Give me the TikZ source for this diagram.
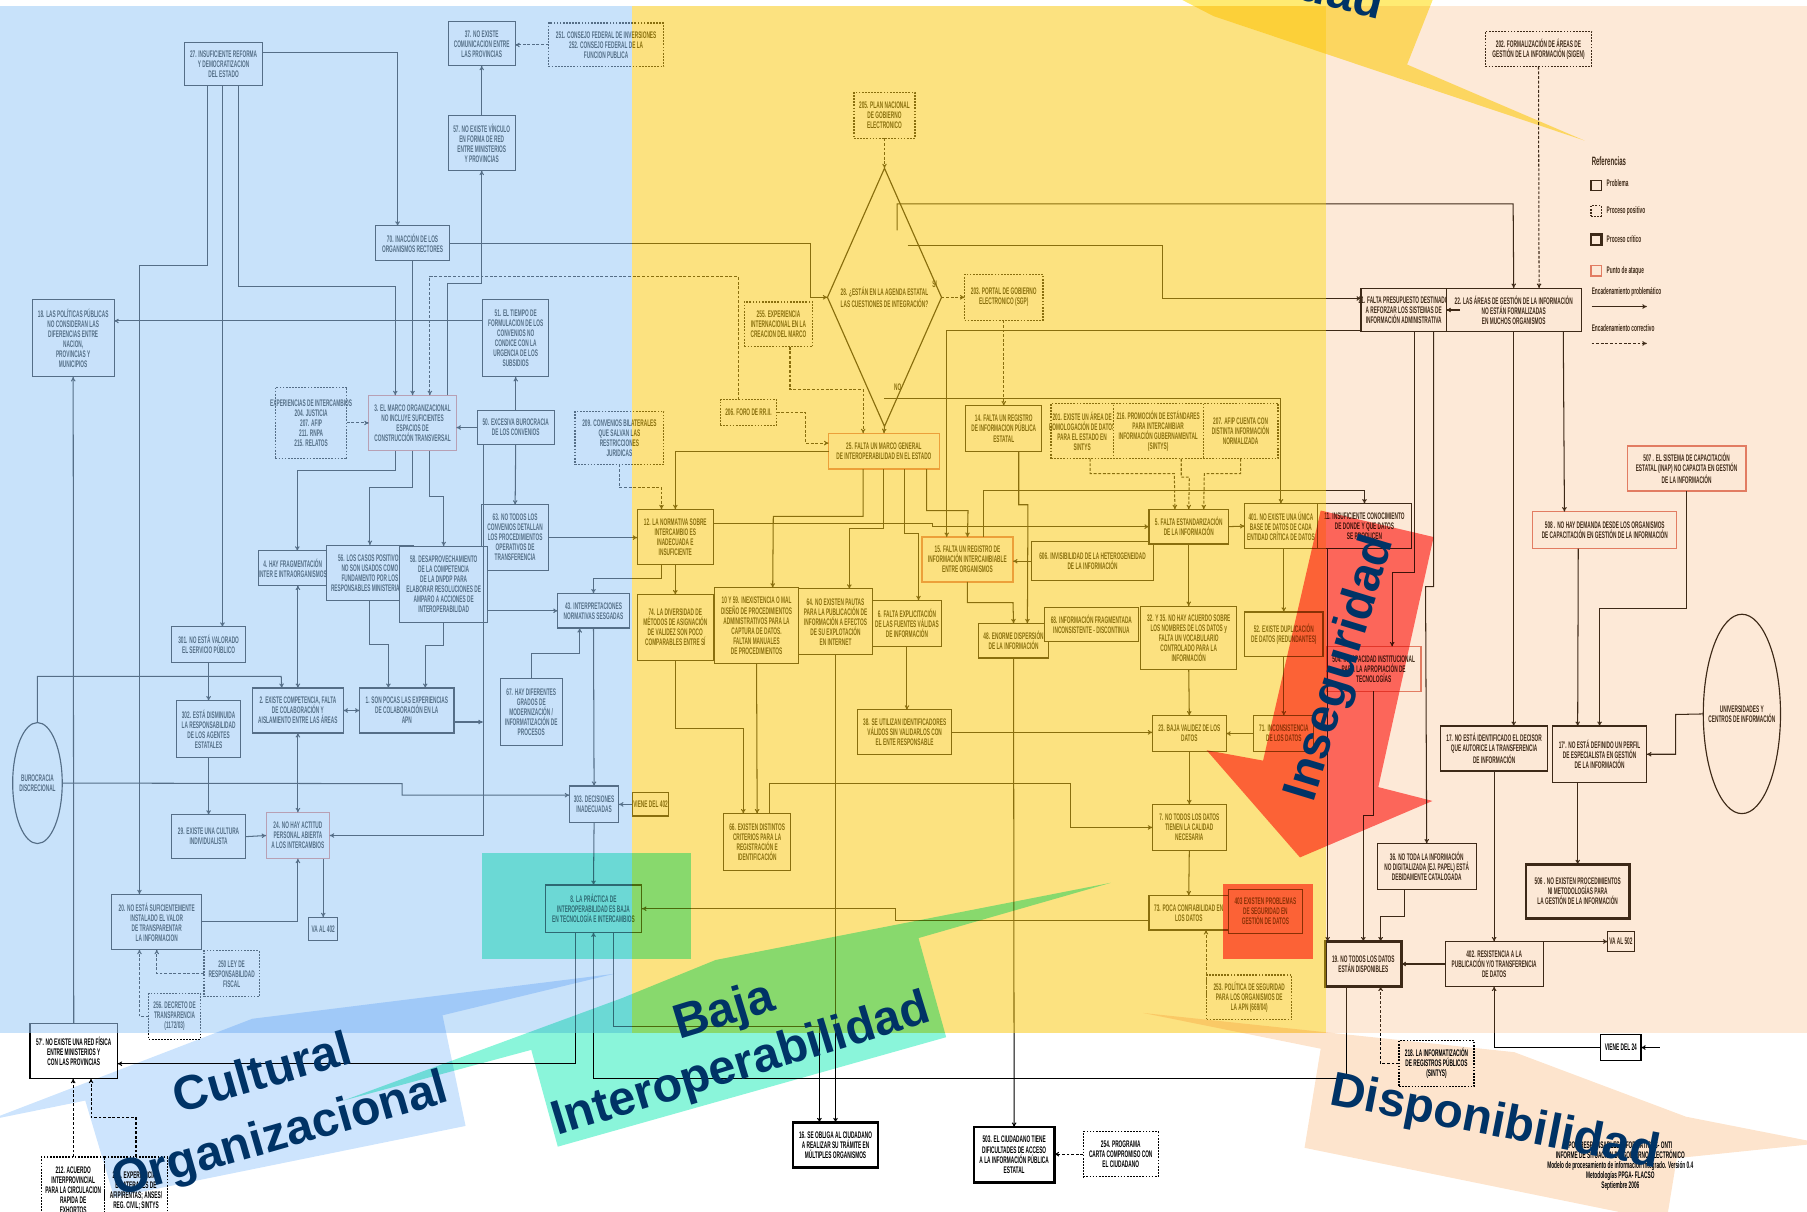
\documentclass[tikz,border=0pt]{standalone}
\usepackage{fontspec}
\usetikzlibrary{arrows.meta,shapes.geometric}
\newfontfamily\cajafont{Liberation Sans Bold}[FakeStretch=0.5]
\newfontfamily\gordafont{Liberation Sans}
\definecolor{atque}{RGB}{220,110,100}
\definecolor{azulzona}{RGB}{155,202,246}
\definecolor{amarzona}{RGB}{250,202,24}
\definecolor{durazno}{RGB}{247,167,95}
\definecolor{celeste}{RGB}{205,228,253}
\definecolor{menta}{RGB}{138,245,218}
\definecolor{rojo}{RGB}{255,112,108}
\definecolor{salmon}{RGB}{253,228,205}
\definecolor{oro}{RGB}{255,235,115}
\definecolor{marino}{RGB}{0,51,102}
\newcommand\caja[7][prob]{%
  \node[#1, minimum width=#5-#3, minimum height=#6-#4,
        label={[txt]center:{#7}}] (#2) at ({(#3+#5)/2},{(#4+#6)/2}) {};}
\begin{document}
\begin{tikzpicture}[x=1pt, y=-1pt, >={To[length=4pt,width=4pt]},
    prob/.style={draw=black, fill=white, line width=1pt, inner sep=0pt, outer sep=0pt},
    posi/.style={prob, dash pattern=on 1.5pt off 1.2pt},
    crit/.style={prob, line width=2.2pt},
    atk/.style={prob, draw=atque},
    txt/.style={font=\cajafont\fontsize{8.3}{8.7}\selectfont, align=center, inner sep=0pt, text=black},
    pb/.style={->, line width=0.9pt},
    co/.style={pb, dash pattern=on 2.5pt off 1.5pt},
    gorda/.style={font=\gordafont\bfseries\fontsize{42}{55}\selectfont, text=marino, align=center, inner sep=0pt}]
  \useasboundingbox (0,0) rectangle (1568,1051);
  % left block
  \caja{n27}{160}{37}{228}{74}{27. INSUFICIENTE REFORMA\\Y DEMOCRATIZACION\\DEL ESTADO}
  \caja{n37}{389}{19}{447}{57}{37. NO EXISTE\\COMUNICACION ENTRE\\LAS PROVINCIAS}
  \caja[posi]{n251}{476}{20}{576}{58}{251. CONSEJO FEDERAL DE INVERSIONES\\252. CONSEJO FEDERAL DE LA\\FUNCION PUBLICA}
  \caja{n57}{389}{100}{447}{148}{57. NO EXISTE VÍNCULO\\EN FORMA DE RED\\ENTRE MINISTERIOS\\Y PROVINCIAS}
  \caja{n70}{326}{196}{390}{226}{70. INACCIÓN DE LOS\\ORGANISMOS RECTORES}
  \caja{n18}{28}{260}{99}{327}{18. LAS POLÍTICAS PÚBLICAS\\NO CONSIDERAN LAS\\DIFERENCIAS ENTRE\\NACION,\\PROVINCIAS Y\\MUNICIPIOS}
  \caja{n51}{419}{260}{476}{327}{51. EL TIEMPO DE\\FORMULACION DE LOS\\CONVENIOS NO\\CONDICE CON LA\\URGENCIA DE LOS\\SUBSIDIOS}
  \caja[posi]{nexp}{239}{336}{301}{398}{EXPERIENCIAS DE INTERCAMBIOS\\204. JUSTICIA\\207. AFIP\\211. RNPA\\215. RELATOS}
  \caja[atk]{n3}{320}{343}{396}{391}{3. EL MARCO ORGANIZACIONAL\\NO INCLUYE SUFICIENTES\\ESPACIOS DE\\CONSTRUCCIÓN TRANSVERSAL}
  \caja{n50}{414}{356}{481}{386}{50. EXCESIVA BUROCRACIA\\DE LOS CONVENIOS}
  \caja[posi]{n209}{499}{357}{576}{403}{209. CONVENIOS BILATERALES\\QUE SALVAN LAS\\RESTRICCIONES\\JURIDICAS}
  \caja{n63}{418}{438}{476}{495}{63. NO TODOS LOS\\CONVENIOS DETALLAN\\LOS PROCEDIMIENTOS\\OPERATIVOS DE\\TRANSFERENCIA}
  \caja{n4}{224}{478}{284}{508}{4. HAY FRAGMENTACIÓN\\INTER E INTRAORGANISMOS}
  \caja{n56}{283}{473}{359}{521}{56. LOS CASOS POSITIVOS\\NO SON USADOS COMO\\FUNDAMENTO POR LOS\\RESPONSABLES MINISTERIALES}
  \caja{n58}{347}{474}{423}{540}{58. DESAPROVECHAMIENTO\\DE LA COMPETENCIA\\DE LA DNPDP PARA\\ELABORAR RESOLUCIONES DE\\AMPARO A ACCIONES DE\\INTEROPERABILIDAD}
  \caja{n43}{484}{515}{546}{545}{43. INTERPRETACIONES\\NORMATIVAS SESGADAS}
  \caja{n301}{149}{544}{213}{575}{301. NO ESTÁ VALORADO\\EL SERVICIO PÚBLICO}
  \caja{n2}{219}{597}{298}{636}{2. EXISTE COMPETENCIA, FALTA\\DE COLABORACIÓN Y\\AISLAMIENTO ENTRE LAS ÁREAS}
  \caja{n1}{312}{597}{394}{636}{1. SON POCAS LAS EXPERIENCIAS\\DE COLABORACIÓN EN LA\\APN}
  \caja{n67}{434}{589}{488}{647}{67. HAY DIFERENTES\\GRADOS DE\\MODERNIZACIÓN /\\INFORMATIZACIÓN DE\\PROCESOS}
  \caja{n302}{153}{608}{209}{657}{302. ESTÁ DISMINUIDA\\LA RESPONSABILIDAD\\DE LOS AGENTES\\ESTATALES}
  \node[draw, ellipse, line width=1pt, inner sep=0pt, outer sep=0pt, minimum width=43, minimum height=105,
        label={[txt]center:{BUROCRACIA\\DISCRECIONAL}}] (nburo) at (32.5,679.5) {};
  \caja{n303}{494}{682}{537}{714}{303. DECISIONES\\INADECUADAS}
  \caja{nviene402}{549}{688}{580}{708}{VIENE DEL 402}
  \caja{n29}{149}{707}{213}{745}{29. EXISTE UNA CULTURA\\INDIVIDUALISTA}
  \caja[atk]{n24}{231}{705}{286}{745}{24. NO HAY ACTITUD\\PERSONAL ABIERTA\\A LOS INTERCAMBIOS}
  \caja{n20}{97}{776}{175}{824}{20. NO ESTÁ SUFICIENTEMENTE\\INSTALADO EL VALOR\\DE TRANSPARENTAR\\LA INFORMACION}
  \caja{nva402}{268}{796}{293}{816}{VA AL 402}
  \caja{n8}{473}{768}{557}{809}{8. LA PRÁCTICA DE\\INTEROPERABILIDAD ES BAJA\\EN TECNOLOGÍA E INTERCAMBIOS}
  \caja[posi]{n250}{177}{825}{225}{865}{250 LEY DE\\RESPONSABILIDAD\\FISCAL}
  \caja[posi]{n256}{129}{862}{174}{902}{256. DECRETO DE\\TRANSPARENCIA\\(1172/03)}
  \caja{n57b}{26}{888}{102}{936}{57'. NO EXISTE UNA RED FÍSICA\\ENTRE MINISTERIOS Y\\CON LAS PROVINCIAS}
  \caja[posi]{n212}{36}{1004}{91}{1062}{212. ACUERDO\\INTERPROVINCIAL\\PARA LA CIRCULACION\\RAPIDA DE\\EXHORTOS}
  \caja[posi]{n213}{91}{1004}{145}{1062}{213. EXPERIENCIAS\\BILATERALES DE\\AFIP/RENTAS; ANSES/\\REG. CIVIL; SINTYS}
  % middle block
  \caja[posi]{n205}{741}{80}{794}{120}{205. PLAN NACIONAL\\DE GOBIERNO\\ELECTRONICO}
  \node[draw, diamond, line width=1pt, inner sep=0pt, outer sep=0pt, minimum width=99, minimum height=224,
        label={[txt]center:{28. ¿ESTÁN EN LA AGENDA ESTATAL\\LAS CUESTIONES DE INTEGRACIÓN?}}] (n28) at (767.5,258) {};
  \node[txt] (lsi) at (811,247) {SI};
  \node[txt] (lno) at (779,336) {NO};
  \caja[posi]{n203}{837}{238}{905}{278}{203. PORTAL DE GOBIERNO\\ELECTRONICO (SGP)}
  \caja[posi]{n255}{646}{262}{705}{301}{255. EXPERIENCIA\\INTERNACIONAL EN LA\\CREACION DEL MARCO}
  \caja[posi]{n206}{625}{347}{674}{369}{206. FORO DE RR.II.}
  \caja[atk]{n25}{719}{376}{815}{407}{25. FALTA UN MARCO GENERAL\\DE INTEROPERABILIDAD EN EL ESTADO}
  \caja{n14}{838}{352}{904}{392}{14. FALTA UN REGISTRO\\DE INFORMACION PÚBLICA\\ESTATAL}
  \caja[posi]{n201}{912}{350}{966}{398}{201. EXISTE UN ÁREA DE\\HOMOLOGACIÓN DE DATOS\\PARA EL ESTADO EN\\SINTYS}
  \caja[posi]{n216}{966}{350}{1044}{398}{216. PROMOCIÓN DE ESTÁNDARES\\PARA INTERCAMBIAR\\INFORMACIÓN GUBERNAMENTAL\\(SINTYS)}
  \caja[posi]{n207}{1044}{350}{1109}{398}{207. AFIP CUENTA CON\\DISTINTA INFORMACIÓN\\NORMALIZADA}
  \caja{n12}{553}{442}{619}{490}{12. LA NORMATIVA SOBRE\\INTERCAMBIO ES\\INADECUADA E\\INSUFICIENTE}
  \caja[atk]{n15}{800}{466}{879}{505}{15. FALTA UN REGISTRO DE\\INFORMACIÓN INTERCAMBIABLE\\ENTRE ORGANISMOS}
  \caja{n606}{895}{470}{1001}{504}{606. INVISIBILIDAD DE LA HETEROGENEIDAD\\DE LA INFORMACIÓN}
  \caja{n5}{997}{442}{1066}{472}{5. FALTA ESTANDARIZACIÓN\\DE LA INFORMACIÓN}
  \caja{n401}{1080}{437}{1143}{476}{401. NO EXISTE UNA ÚNICA\\BASE DE DATOS DE CADA\\ENTIDAD CRÍTICA DE DATOS}
  \caja{n11}{1143}{437}{1225}{476}{11. INSUFICIENTE CONOCIMIENTO\\DE DONDE Y QUE DATOS\\SE PRODUCEN}
  \caja{n74}{553}{516}{619}{573}{74. LA DIVERSIDAD DE\\MÉTODOS DE ASIGNACIÓN\\DE VALIDEZ SON POCO\\COMPARABLES ENTRE SÍ}
  \caja{n10}{620}{510}{693}{576}{10 Y 59. INEXISTENCIA O MAL\\DISEÑO DE PROCEDIMIENTOS\\ADMINISTRATIVOS PARA LA\\CAPTURA DE DATOS.\\FALTAN MANUALES\\DE PROCEDIMIENTOS}
  \caja{n64}{693}{511}{757}{568}{64. NO EXISTEN PAUTAS\\PARA LA PUBLICACIÓN DE\\INFORMACIÓN A EFECTOS\\DE SU EXPLOTACIÓN\\EN INTERNET}
  \caja{n6}{757}{521}{817}{561}{6. FALTA EXPLICITACIÓN\\DE LAS FUENTES VÁLIDAS\\DE INFORMACIÓN}
  \caja{n48}{849}{541}{910}{571}{48. ENORME DISPERSIÓN\\DE LA INFORMACIÓN}
  \caja{n68}{906}{527}{988}{557}{68. INFORMACIÓN FRAGMENTADA\\INCONSISTENTE - DISCONTINUA}
  \caja{n32}{990}{526}{1073}{581}{32. Y 35. NO HAY ACUERDO SOBRE\\LOS NOMBRES DE LOS DATOS y\\FALTA UN VOCABULARIO\\CONTROLADO PARA LA\\INFORMACIÓN}
  \caja{n52}{1080}{531}{1148}{570}{52. EXISTE DUPLICACIÓN\\DE DATOS (REDUNDANTES)}
  \caja[atk]{n504}{1151}{561}{1233}{600}{504. INCAPACIDAD INSTITUCIONAL\\PARA LA APROPIACIÓN DE\\TECNOLOGÍAS}
  \caja{n38}{744}{616}{826}{655}{38. SE UTILIZAN IDENTIFICADORES\\VÁLIDOS SIN VALIDARLOS CON\\EL ENTE RESPONSABLE}
  \caja{n23}{1000}{621}{1064}{652}{23. BAJA VALIDEZ DE LOS\\DATOS}
  \caja{n71}{1088}{621}{1140}{652}{71. INCONSISTENCIA\\DE LOS DATOS}
  \caja{n66}{628}{706}{686}{755}{66. EXISTEN DISTINTOS\\CRITERIOS PARA LA\\REGISTRACIÓN E\\IDENTIFICACIÓN}
  \caja{n7}{1000}{698}{1064}{738}{7. NO TODOS LOS DATOS\\TIENEN LA CALIDAD\\NECESARIA}
  \caja{n73}{997}{777}{1066}{807}{73. POCA CONFIABILIDAD EN\\LOS DATOS}
  \caja{n403}{1066}{772}{1130}{810}{403 EXISTEN PROBLEMAS\\DE SEGURIDAD EN\\GESTIÓN DE DATOS}
  \caja[posi]{n253}{1047}{846}{1121}{885}{253. POLÍTICA DE SEGURIDAD\\PARA LOS ORGANISMOS DE\\LA APN (669/04)}
  \caja[crit]{n16}{688}{974}{762}{1013}{16. SE OBLIGA AL CIUDADANO\\A REALIZAR SU TRÁMITE EN\\MÚLTIPLES ORGANISMOS}
  \caja[crit]{n503}{845}{978}{915}{1026}{503. EL CIUDADANO TIENE\\DIFICULTADES DE ACCESO\\A LA INFORMACIÓN PÚBLICA\\ESTATAL}
  \caja[posi]{n254}{940}{982}{1005}{1021}{254. PROGRAMA\\CARTA COMPROMISO CON\\EL CIUDADANO}
  % right block
  \caja[posi]{n202}{1289}{27}{1381}{58}{202. FORMALIZACIÓN DE ÁREAS DE\\GESTIÓN DE LA INFORMACIÓN (SIGEN)}
  \caja{n21}{1181}{250}{1255}{288}{21. FALTA PRESUPUESTO DESTINADO\\A REFORZAR LOS SISTEMAS DE\\INFORMACIÓN ADMINISTRATIVA}
  \caja{n22}{1255}{250}{1372}{288}{22. LAS ÁREAS DE GESTIÓN DE LA INFORMACIÓN\\NO ESTÁN FORMALIZADAS\\EN MUCHOS ORGANISMOS}
  \caja[atk]{n507}{1412}{387}{1515}{426}{507 . EL SISTEMA DE CAPACITACIÓN\\ESTATAL (INAP) NO CAPACITA EN GESTIÓN\\DE LA INFORMACIÓN}
  \caja[atk]{n508}{1330}{444}{1455}{476}{508 . NO HAY DEMANDA DESDE LOS ORGANISMOS\\DE CAPACITACIÓN EN GESTIÓN DE LA INFORMACIÓN}
  \node[draw, ellipse, line width=1pt, inner sep=0pt, outer sep=0pt, minimum width=67, minimum height=173,
        label={[txt]center:{UNIVERSIDADES Y\\CENTROS DE INFORMACIÓN}}] (nuni) at (1511.5,619.5) {};
  \caja{n17}{1250}{630}{1343}{669}{17. NO ESTÁ IDENTIFICADO EL DECISOR\\QUE AUTORICE LA TRANSFERENCIA\\DE INFORMACIÓN}
  \caja{n17b}{1347}{630}{1429}{679}{17'. NO ESTÁ DEFINIDO UN PERFIL\\DE ESPECIALISTA EN GESTIÓN\\DE LA INFORMACIÓN}
  \caja{n36}{1195}{732}{1281}{772}{36. NO TODA LA INFORMACIÓN\\NO DIGITALIZADA (EJ. PAPEL) ESTÁ\\DEBIDAMENTE CATALOGADA}
  \caja[crit]{n506}{1324}{750}{1414}{797}{506 . NO EXISTEN PROCEDIMIENTOS\\NI METODOLOGÍAS PARA\\LA GESTIÓN DE LA INFORMACIÓN}
  \caja[crit]{n19}{1150}{817}{1216}{856}{19. NO TODOS LOS DATOS\\ESTÁN DISPONIBLES}
  \caja{n402}{1254}{817}{1339}{856}{402. RESISTENCIA A LA\\PUBLICACIÓN Y/O TRANSFERENCIA\\DE DATOS}
  \caja{nva502}{1395}{808}{1418}{826}{VA AL 502}
  \caja[posi]{n218}{1214}{903}{1279}{943}{218. LA INFORMATIZACIÓN\\DE REGISTROS PÚBLICOS\\(SINTYS)}
  \caja{nviene24}{1389}{898}{1424}{920}{VIENE DEL 24}
  \node[txt] (npie) at (1406,1011) {POR RESPONSABLES INFORMÁTICOS- ONTI\\INFORME DE SITUACIÓN DE GOBIERNO ELECTRÓNICO\\Modelo de procesamiento de información integrado. Versión 0.4\\Metodologías PPGA- FLACSO\\Septiembre 2006};
  % legend
  \node[txt, anchor=west, font=\cajafont\fontsize{10.5}{11}\selectfont] (lref) at (1381,140) {Referencias};
  \node[prob, minimum size=9] (lq1) at (1385,161) {};
  \node[posi, minimum size=9] (lq2) at (1385,183) {};
  \node[crit, minimum size=9] (lq3) at (1385,208) {};
  \node[atk, minimum size=9] (lq4) at (1385,235) {};
  \node[txt, anchor=west] (lt1) at (1394,159) {Problema};
  \node[txt, anchor=west] (lt2) at (1394,183) {Proceso positivo};
  \node[txt, anchor=west] (lt3) at (1394,207) {Proceso crítico};
  \node[txt, anchor=west] (lt4) at (1394,235) {Punto de ataque};
  \node[txt, anchor=west] (lt5) at (1381,253) {Encadenamiento problemático};
  \node[txt, anchor=west] (lt6) at (1381,285) {Encadenamiento correctivo};
  \coordinate (lpa) at (1381,266); \coordinate (lpb) at (1429,266);
  \coordinate (lca) at (1381,298); \coordinate (lcb) at (1429,298);
  \draw[pb] (lpa) -- (lpb);
  \draw[co] (lca) -- (lcb);
  % connectors, left
  \draw[pb] ([yshift=10pt]n27.east) -| ([xshift=-13pt]n70.north);
  \draw[pb] ([xshift=-14pt]n27.south) |- (121,230) -- ([xshift=-15pt]n20.north);
  \draw[pb] ([xshift=-1pt]n27.south) -- ([xshift=12pt]n301.north);
  \draw[pb] ([xshift=13pt]n27.south) |- (343,249) -- ([xshift=-15pt]n3.north);
  \draw[pb] (n70.south) -- (n3.north);
  \draw[co] ([xshift=-9pt]n206.north) |- (373,240) -- ([xshift=15pt]n3.north);
  \draw[pb] ([xshift=30pt]n3.north) |- (418,246) -- (n57.south);
  \draw[pb] (n57.north) -- (n37.south);
  \draw[co] (n251.west) -- (n251.west -| n37.east);
  \draw[pb] ([yshift=15pt]n51.west) -- ([yshift=15pt]n18.east);
  \draw[pb] (n50.north) -- (n51.south);
  \draw[pb] (n50.west) -- (n50.west -| n3.east);
  \draw[co] (nexp.east) -- (nexp.east -| n3.west);
  \draw[pb] ([xshift=-15pt]n3.south) |- (258,408) -- ([xshift=4pt]n4.north);
  \draw[pb] (n3.south) |- (321,423) -- (n56.north);
  \draw[pb] ([xshift=15pt]n3.south) |- (385,431) -- (n58.north);
  \draw[pb] (n50.south) -- (n63.north);
  \draw[pb] (n63.east) -- (n63.east -| n12.west);
  \draw[pb] (n43.west -| n58.east) -- (n43.west);
  \draw[pb,<->] (n2.north) -- (n2.north |- n4.south);
  \draw[pb,<->] (n2.east) -- (n1.west);
  \draw[pb] (n56.south) |- (337,559) -- ([xshift=-16pt]n1.north);
  \draw[pb] (n58.south) |- (369,560) -- ([xshift=16pt]n1.north);
  \draw[pb] ([xshift=-28pt]n50.south) |- (n24.east);
  \draw[pb] ([yshift=-10pt]n1.east) -- ++(25,0);
  \draw[pb] (n301.south) -- (n302.north);
  \draw[pb] (n302.south) -- (n29.north);
  \draw[pb] (n29.east) -- (n24.west);
  \draw[pb,<->] (n24.north) -- (n24.north |- n2.south);
  \draw[pb] (n24.south -| nva402.north) -- (nva402.north);
  \draw[pb] (n20.east) -| (n24.south);
  \draw[pb] (nburo.north) |- (244,587) -- ([xshift=-14pt]n2.north);
  \draw[pb] (nburo.east) -- (349,680) |- ([yshift=8pt]n303.west);
  \draw[pb] (n43.south) -- (n303.north);
  \draw[pb] (n67.north) |- (503,567) -- ([xshift=-12pt]n43.south);
  \draw[pb] (nviene402.west) -- (n303.east);
  \draw[pb] (n303.south) -- (n8.north);
  \draw[pb] ([xshift=-12pt]n12.south) |- (515,502) -- (n43.north);
  \draw[pb] ([xshift=-16pt]n8.south) |- ([yshift=-11pt]n57b.east);
  \draw[pb] (n57b.north) -- (n18.south);
  \draw[co] (n212.north) -- (n212.north |- n57b.south);
  \draw[co] (n213.north) |- (79,970) -- ([xshift=15pt]n57b.south);
  \draw[co] (n250.west) -| (n20.south);
  \draw[co] (n256.west) -| ([xshift=-15pt]n20.south);
  \draw[pb] ([yshift=-7pt]n73.west) -- (777,799) |- (n8.east);
  \draw[pb] ([xshift=17pt]n8.south) |- (711,891) -- ([xshift=-14pt]n16.north);
  \draw[pb] (n64.south) -- (n16.north);
  \draw[pb] ([xshift=-15pt]n19.south) |- (515,936) -- (n8.south);
  \draw[pb] (n48.south) -- (n503.north);
  \draw[co] (n254.west) -- (n254.west -| n503.east);
  % connectors, middle
  \draw[co] (n205.south) -- (n28.north);
  \draw[co] (n28.east) -- (n203.west);
  \draw[co] (n203.south) -- (n14.north);
  \draw[pb] (n28.south) -- (n25.north);
  \draw[co] ([xshift=10pt]n255.south) |- (749,338) -- ([xshift=-18pt]n25.north);
  \draw[co] (n206.east) -- (699,358) |- ([yshift=7pt]n25.west);
  \draw[pb] (n70.east) -- (703,211) |- (n28.west);
  \draw[pb] ([xshift=11pt,yshift=58pt]n28.center) |- (1313,177) -- (n22.north);
  \draw[pb] ([xshift=20pt,yshift=45pt]n28.center) -- (1009,213) |- ([yshift=10pt]n21.west);
  \draw[pb] ([yshift=-18pt]n21.west) -| ([xshift=-18pt]n15.north);
  \draw[pb] (n25.west) -| (n12.north);
  \draw[co] (n209.south) |- (574,423) -- ([xshift=-12pt]n12.north);
  \draw[pb] ([xshift=-18pt]n25.south) |- (671,448) -- ([xshift=14pt]n10.north);
  \draw[pb] (n25.south) |- (737,459) -- ([xshift=12pt]n64.north);
  \draw[pb] ([xshift=18pt]n25.south) |- (797,463) -- ([xshift=10pt]n6.north);
  \draw[pb] ([xshift=37pt]n25.south) |- (840,443) -- (n15.north);
  \draw[pb] (n12.south) -- (n74.north);
  \draw[pb] ([yshift=12pt]n12.east) -- (809,454) |- (n5.west);
  \draw[pb] ([xshift=13pt]n14.south) |- (892,438) -- ([xshift=12pt]n48.north);
  \draw[pb] (n15.south) |- (879,523) -- (n48.north);
  \draw[pb] (n606.west) -- (n606.west -| n15.east);
  \draw[pb] (n5.south) -- (n32.north);
  \draw[pb] (n32.south) -- (n23.north);
  \draw[co] ([xshift=7pt]n201.south) |- (1019,411) -- ([xshift=-12pt]n5.north);
  \draw[co] ([xshift=20pt]n216.south) |- (1032,414) -- (n5.north);
  \draw[co] (n207.south) |- (1045,411) -- ([xshift=13pt]n5.north);
  \draw[pb] ([yshift=-88pt]n28.center) -| (n401.north);
  \draw[pb] (n5.east) -- (n401.west);
  \draw[pb] (n401.south -| n52.north) -- (n52.north);
  \draw[pb] (n52.south) -- (n71.north);
  \draw[pb] ([xshift=14pt]n15.north) |- (1184,426) -- (n11.north);
  \draw[pb] ([xshift=9pt]n21.south) |- (1208,497) -- ([xshift=16pt]n504.north);
  \draw[pb] (n38.east) -- (n38.east -| n23.west);
  \draw[pb] (n71.west) -- (n71.west -| n23.east);
  \draw[pb] (n23.south) -- (n7.north);
  \draw[pb] (n7.south) -- (n73.north);
  \draw[co] (n253.west) -| ([xshift=15pt]n73.south);
  \draw[pb] (n6.south) -- (n6.south |- n38.north);
  \draw[pb] (n74.south) |- (645,632) -- ([xshift=-12pt]n66.north);
  \draw[pb] (n10.south) -- (n66.north);
  \draw[pb] ([xshift=11pt]n66.north) |- (929,680) |- (n7.west);
  % connectors, right
  \draw[co] (n202.south) -- ([xshift=22pt]n22.north);
  \draw[pb] ([xshift=12pt]n22.west) -- (n22.west);
  \draw[pb] ([xshift=43pt]n22.south) -- ([xshift=-35pt]n508.north);
  \draw[pb] (n22.south) -- ([xshift=17pt]n17.north);
  \draw[pb] ([xshift=26pt]n21.south) |- (1237,509) -- (n36.north);
  \draw[pb] (n504.south) |- (1183,708) -- (n19.north);
  \draw[pb] ([xshift=-32pt]n11.south) -- ([xshift=-31pt]n19.north);
  \draw[pb] ([xshift=-19pt]n36.south) |- (1198,795) -- ([xshift=15pt]n19.north);
  \draw[pb] (n402.west) -- (n19.east);
  \draw[pb] (n17.south) -- (n402.north);
  \draw[pb] (n402.north) -- (nva502.west);
  \draw[pb] (nviene24.west) -| (n402.south);
  \coordinate (fin24) at (1440,909);
  \draw[pb] (fin24) -- (nviene24.east);
  \draw[co] (n218.west) -| ([xshift=15pt]n19.south);
  \draw[pb] (n507.south) |- (1388,528) -- (n17b.north);
  \draw[pb] ([xshift=-23pt]n508.south) -- ([xshift=-19pt]n17b.north);
  \draw[pb] (nuni.west) -- (1454,620) |- (n17b.east);
  \draw[pb] ([xshift=-19pt]n17b.south) -- (n506.north);
  % tinted areas
  \fill[azulzona, fill opacity=0.55] (0,5) rectangle (548,896);
  \fill[amarzona, fill opacity=0.55] (548,5) rectangle (1151,896);
  \fill[durazno, fill opacity=0.25] (1151,5) rectangle (1568,896);
  \begin{scope}[blend mode=multiply]
    \fill[menta] (418,740) rectangle (600,832);
    \fill[rojo] (1061,767) rectangle (1139,832);
    \fill[celeste] (-10,972) -- (219,884) -- (533,845) -- (384,881) -- (404,977) -- (99,1039) -- (74,955) -- cycle;
    \fill[menta] (298,955) -- (540,866) -- (621,833) -- (964,766) -- (797,814) -- (821,900) -- (484,995) -- (461,911) -- cycle;
    \fill[rojo] (1146,443) -- (1244,466) -- (1196,683) -- (1243,695) -- (1128,744) -- (1047,651) -- (1096,660) -- cycle;
    \fill[salmon] (992,879) -- (1314,913) -- (1463,969) -- (1580,992) -- (1455,1005) -- (1446,1060) -- (1132,996) -- (1146,910) -- cycle;
    \fill[oro] (968,-30) -- (1053,14) -- (1375,122) -- (1221,56) -- (1255,-30) -- cycle;
  \end{scope}
  % big labels
  \node[gorda, rotate=16] (tcult) at (236,960) {Cultural\\Organizacional};
  \node[gorda, rotate=17, font=\gordafont\bfseries\fontsize{42}{49}\selectfont] (tbaja) at (636,902) {Baja\\Interoperabilidad};
  \node[gorda, rotate=73] (tinseg) at (1164,580) {Inseguridad};
  \node[gorda, rotate=-11] (tdispo) at (1297,975) {Disponibilidad};
  \node[gorda, rotate=-14, anchor=base east] (tcali) at (1197,17) {Calidad};
\end{tikzpicture}
\end{document}
